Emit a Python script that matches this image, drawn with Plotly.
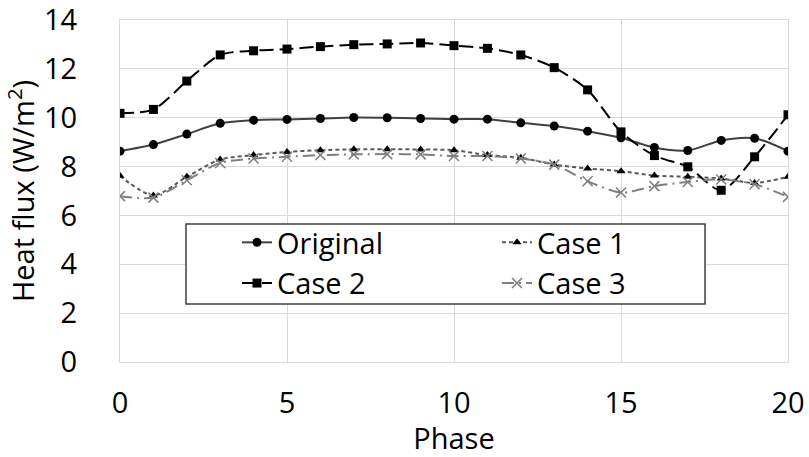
import plotly.graph_objects as go

phase = list(range(21))
original = [8.63, 8.90, 9.33, 9.77, 9.90, 9.93, 9.97, 10.01, 10.00, 9.97, 9.94,
            9.94, 9.79, 9.66, 9.45, 9.18, 8.78, 8.66, 9.07, 9.16, 8.63]
case1 = [7.62, 6.82, 7.58, 8.29, 8.47, 8.60, 8.67, 8.71, 8.71, 8.70, 8.67,
         8.47, 8.36, 8.08, 7.92, 7.81, 7.63, 7.58, 7.51, 7.33, 7.58]
case2 = [10.18, 10.34, 11.50, 12.57, 12.74, 12.81, 12.91, 12.99, 13.02, 13.06, 12.95,
         12.84, 12.57, 12.05, 11.14, 9.42, 8.45, 7.99, 7.03, 8.40, 10.12]
case3 = [6.79, 6.73, 7.44, 8.15, 8.33, 8.40, 8.47, 8.50, 8.51, 8.50, 8.43,
         8.43, 8.33, 8.08, 7.40, 6.94, 7.20, 7.37, 7.47, 7.28, 6.76]

x_ticks = [0, 5, 10, 15, 20]
y_ticks = [0, 2, 4, 6, 8, 10, 12, 14]

FONT = "Open Sans"
fig = go.Figure()

fig.add_trace(go.Scatter(
    x=phase, y=original, name="Original", mode="lines+markers",
    line=dict(color="#404040", width=2, shape="spline", smoothing=0.8),
    marker=dict(symbol="circle", size=9, color="black")))
fig.add_trace(go.Scatter(
    x=phase, y=case1, name="Case 1", mode="lines+markers",
    line=dict(color="#595959", width=2, dash="4px,3px", shape="spline", smoothing=0.8),
    marker=dict(symbol="triangle-up", size=8, color="black")))
fig.add_trace(go.Scatter(
    x=phase, y=case2, name="Case 2", mode="lines+markers",
    line=dict(color="black", width=2, dash="14px,6px", shape="spline", smoothing=0.8),
    marker=dict(symbol="square", size=9, color="black")))
fig.add_trace(go.Scatter(
    x=phase, y=case3, name="Case 3", mode="lines+markers",
    line=dict(color="#7f7f7f", width=2, dash="12px,5px,2px,5px", shape="spline", smoothing=0.8),
    marker=dict(symbol="x-thin", size=10, color="#7f7f7f",
                line=dict(width=1.5, color="#7f7f7f"))))

# legend frame
fig.add_shape(type="rect", xref="paper", yref="paper",
              x0=(186 - 120) / 668, x1=(705 - 120) / 668,
              y0=(362 - 304) / 342, y1=(362 - 224) / 342,
              line=dict(color="#404040", width=1.5), fillcolor="white", layer="above")

fig.update_layout(
    width=809, height=457,
    margin=dict(l=120, r=21, t=20, b=95),
    paper_bgcolor="white", plot_bgcolor="white",
    font=dict(family=FONT, size=29, color="black"),
    showlegend=True,
    legend=dict(orientation="h", x=(237 - 120) / 668, y=(362 - 217) / 342,
                xanchor="left", yanchor="top",
                entrywidth=215, entrywidthmode="pixels",
                bgcolor="rgba(0,0,0,0)", borderwidth=0,
                font=dict(family=FONT, size=29), tracegroupgap=0,
                traceorder="normal"),
    xaxis=dict(range=[0, 20], tickvals=x_ticks, ticktext=[str(v) for v in x_ticks],
               showgrid=True, gridcolor="#d9d9d9", gridwidth=1,
               showline=True, linecolor="#d9d9d9", linewidth=1, mirror=True,
               zeroline=False, ticks="", ticklabeloverflow="allow",
               ticklabelstandoff=15, automargin=False,
               title=dict(text="Phase", standoff=3, font=dict(size=29))),
    yaxis=dict(range=[0, 14], tickvals=y_ticks, ticktext=[str(v) for v in y_ticks],
               showgrid=True, gridcolor="#d9d9d9", gridwidth=1,
               showline=True, linecolor="#d9d9d9", linewidth=1, mirror=True,
               zeroline=False, ticks="", ticklabeloverflow="allow",
               ticklabelstandoff=36, automargin=False,
               title=dict(text="Heat flux (W/m<sup>2</sup>)", standoff=6, font=dict(size=29))),
)

fig.write_html("out.html")
